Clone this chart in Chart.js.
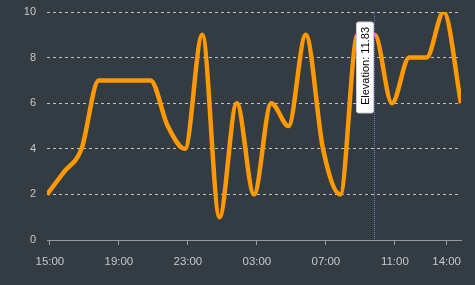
<!DOCTYPE html>
<html><head><meta charset="utf-8">
<script src="https://cdn.jsdelivr.net/npm/chart.js@4"></script>
<style>html,body{margin:0;padding:0;background:#323c42;} #wrap{width:475px;height:285px;position:relative;}</style>
</head><body><div id="wrap"><canvas id="c"></canvas></div>
<script>
const times = ["14:50","15:50","16:50","17:50","18:50","19:50","20:50","21:50","22:50","23:50","00:50","01:50","02:50","03:50","04:50","05:50","06:50","07:50","08:50","09:50","10:50","11:50","12:50","13:50","14:50"];
const elevation = [2,3,4,7,7,7,7,5,4,9,1,6,2,6,5,9,4,2,9,9,6,8,8,10,6];
const xTickLabels = ["15:00","19:00","23:00","03:00","07:00","11:00","14:00"];
const yTickValues = [0,2,4,6,8,10];
const tooltipIndex = 19;
const tooltipText = "Elevation: 11.83";

function toHours(list){
  const out=[]; let prev=-1, add=0;
  for(const t of list){
    const [h,m]=t.split(":").map(Number);
    let v=h+m/60+add;
    if(prev>=0 && v<prev){ add+=24; v+=24; }
    out.push(v); prev=v;
  }
  return out;
}
const dataHours = toHours(times);
const tickHours = toHours(xTickLabels);

const points = dataHours.map((h,i)=>({x:h,y:elevation[i]}));

const overlay = {
  id:'overlay',
  beforeDraw(chart){
    const ctx=chart.ctx; ctx.save(); ctx.fillStyle='#323c42'; ctx.fillRect(0,0,chart.width,chart.height); ctx.restore();
  },
  afterDatasetsDraw(chart){
    const {ctx, chartArea, scales:{x}} = chart;
    const px = Math.round(x.getPixelForValue(dataHours[tooltipIndex]))-0.5;
    ctx.save();
    ctx.strokeStyle='#7777dd'; ctx.lineWidth=1; ctx.setLineDash([1,1]);
    ctx.beginPath(); ctx.moveTo(px,chartArea.top); ctx.lineTo(px,chartArea.bottom); ctx.stroke();
    ctx.setLineDash([]);
    const bx=px-18, by=22, bw=17, bh=91;
    ctx.fillStyle='#ffffff'; ctx.strokeStyle='#cccccc'; ctx.lineWidth=1;
    ctx.beginPath(); ctx.roundRect(bx,by,bw,bh,2); ctx.fill(); ctx.stroke();
    ctx.translate(bx+bw/2+0.5, by+bh/2-1.5);
    ctx.rotate(-Math.PI/2);
    ctx.fillStyle='#000'; ctx.font='11px "Liberation Sans", Arial, sans-serif';
    ctx.textAlign='center'; ctx.textBaseline='middle';
    ctx.fillText(tooltipText,0,0);
    ctx.restore();
  }
};

new Chart(document.getElementById('c'),{
  type:'line',
  data:{datasets:[{label:'Elevation',data:points,borderColor:'#ff9900',borderWidth:4.5,pointRadius:0,cubicInterpolationMode:'monotone',fill:false}]},
  options:{
    responsive:true, maintainAspectRatio:false, animation:false,
    layout:{padding:{top:12,right:14,left:0,bottom:0}},
    plugins:{legend:{display:false},tooltip:{enabled:false}},
    scales:{
      x:{type:'linear',min:dataHours[0],max:dataHours[dataHours.length-1],
        afterBuildTicks(s){s.ticks=tickHours.map(v=>({value:v}));},
        afterFit(s){s.height=45;s.paddingLeft=0;s.paddingRight=0;},
        ticks:{autoSkip:false,maxRotation:0,color:'#c8c8c8',font:{family:'"Liberation Sans", Arial, sans-serif',size:11.5},padding:10,
          callback(v){const i=tickHours.findIndex(t=>Math.abs(t-v)<1e-6);return i>=0?xTickLabels[i]:'';}},
        grid:{drawOnChartArea:false,drawTicks:true,tickLength:5,color:'#a0a0a0'},
        border:{display:true,color:'#9a9a9a'}
      },
      y:{min:0,max:10,
        afterBuildTicks(s){s.ticks=yTickValues.map(v=>({value:v}));},
        afterFit(s){s.width=47;s.paddingTop=0;s.paddingBottom=0;},
        ticks:{color:'#c8c8c8',font:{family:'"Liberation Sans", Arial, sans-serif',size:11},padding:11},
        grid:{color:'rgba(215,215,215,0.85)',drawTicks:false,lineWidth:1},
        border:{display:false,dash:[3,3]}
      }
    }
  },
  plugins:[overlay]
});
</script></body></html>
